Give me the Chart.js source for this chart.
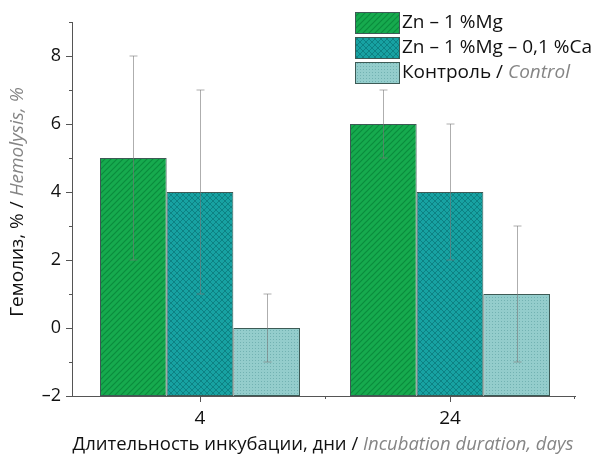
<!DOCTYPE html>
<html>
<head>
<meta charset="utf-8">
<script src="https://cdn.jsdelivr.net/npm/chart.js@4.4.1/dist/chart.umd.min.js"></script>
<style>
    html, body { margin: 0; padding: 0; background: #fff; }
    #wrap { width: 603px; height: 458px; }
</style>
</head>
<body>
<div id="wrap"><canvas id="hemoChart" width="603" height="458"></canvas></div>
<script>
// data
const days = ['4', '24'];
const seriesNames = ['Zn – 1 %Mg', 'Zn – 1 %Mg – 0,1 %Ca', 'Контроль'];
const znMg = [5, 6];
const znMgCa = [4, 4];
const control = [0, 1];
const znMgErr = [3, 1];
const znMgCaErr = [3, 2];
const controlErr = [1, 2];
const yTickValues = [-2, 0, 2, 4, 6, 8];

const FONT = '"Open Sans", "DejaVu Sans", sans-serif';

function makePattern(kind) {
    const c = document.createElement('canvas');
    const x = c.getContext('2d');
    if (kind === 'stripe') {
        c.width = 6; c.height = 6;
        x.fillStyle = '#16aa4e';
        x.fillRect(0, 0, 6, 6);
        x.strokeStyle = '#0b8c3d';
        x.lineWidth = 1.2;
        x.beginPath();
        x.moveTo(0, 6); x.lineTo(6, 0);
        x.moveTo(-3, 3); x.lineTo(3, -3);
        x.moveTo(3, 9); x.lineTo(9, 3);
        x.stroke();
    } else if (kind === 'cross') {
        c.width = 6; c.height = 6;
        x.fillStyle = '#17a2a2';
        x.fillRect(0, 0, 6, 6);
        x.strokeStyle = '#0d8283';
        x.lineWidth = 1;
        x.beginPath();
        x.moveTo(0, 6); x.lineTo(6, 0);
        x.moveTo(0, 0); x.lineTo(6, 6);
        x.stroke();
    } else {
        c.width = 3; c.height = 3;
        x.fillStyle = '#94cdcc';
        x.fillRect(0, 0, 3, 3);
        x.fillStyle = '#72b2b2';
        x.fillRect(0, 0, 1, 1);
    }
    return x.createPattern(c, 'repeat');
}

const fills = [makePattern('stripe'), makePattern('cross'), makePattern('dots')];
const errors = [znMgErr, znMgCaErr, controlErr];

// error bars drawn through the y scale
const errorBarPlugin = {
    id: 'errorBars',
    afterDatasetsDraw(chart) {
        const ctx = chart.ctx;
        const y = chart.scales.y;
        ctx.save();
        ctx.strokeStyle = 'rgba(120,120,120,0.6)';
        ctx.lineWidth = 1;
        chart.data.datasets.forEach((ds, i) => {
            const meta = chart.getDatasetMeta(i);
            meta.data.forEach((bar, j) => {
                const v = ds.data[j].y;
                const e = errors[i][j];
                const top = y.getPixelForValue(v + e);
                const bot = y.getPixelForValue(v - e);
                const px = Math.round(bar.x) + 0.5;
                ctx.beginPath();
                ctx.moveTo(px, top); ctx.lineTo(px, bot);
                ctx.moveTo(px - 4, top); ctx.lineTo(px + 4, top);
                ctx.moveTo(px - 4, bot); ctx.lineTo(px + 4, bot);
                ctx.stroke();
            });
        });
        ctx.restore();
    }
};

function mixedText(ctx, parts, size, cx, cy) {
    let total = 0;
    parts.forEach(p => {
        ctx.font = (p.italic ? 'italic ' : '') + size + 'px ' + FONT;
        p.w = ctx.measureText(p.t).width;
        total += p.w;
    });
    let sx = cx - total / 2;
    parts.forEach(p => {
        ctx.font = (p.italic ? 'italic ' : '') + size + 'px ' + FONT;
        ctx.fillStyle = p.italic ? '#858585' : '#111';
        ctx.fillText(p.t, sx, cy);
        sx += p.w;
    });
}

// axis tick marks, legend and mixed-style titles
const decorPlugin = {
    id: 'decor',
    afterDraw(chart) {
        const ctx = chart.ctx;
        const a = chart.chartArea;
        const y = chart.scales.y;
        const xs = chart.scales.x;
        ctx.save();
        ctx.strokeStyle = '#555';
        ctx.lineWidth = 1;
        ctx.beginPath();
        for (let v = y.min; v <= y.max; v++) {
            const py = Math.round(y.getPixelForValue(v)) + 0.5;
            const len = (v % 2 === 0) ? 6 : 3;
            ctx.moveTo(a.left - len, py); ctx.lineTo(a.left, py);
        }
        days.forEach((d, i) => {
            const px = Math.round(xs.getPixelForValue(i)) + 0.5;
            ctx.moveTo(px, a.bottom); ctx.lineTo(px, a.bottom + 6);
        });
        const mid = Math.round(xs.getPixelForValue(0.5)) + 0.5;
        ctx.moveTo(mid, a.bottom); ctx.lineTo(mid, a.bottom + 3);
        ctx.moveTo(a.right - 0.5, a.bottom); ctx.lineTo(a.right - 0.5, a.bottom + 3);
        ctx.stroke();

        // legend
        const lx = 355, bw = 45, bh = 22;
        const rows = [23, 48, 73];
        ctx.textBaseline = 'middle';
        ctx.textAlign = 'left';
        rows.forEach((cy, i) => {
            ctx.fillStyle = fills[i];
            ctx.fillRect(lx, cy - bh / 2, bw, bh);
            ctx.strokeStyle = '#3d5a55';
            ctx.strokeRect(lx + 0.5, cy - bh / 2 + 0.5, bw - 1, bh - 1);
            ctx.font = '19px ' + FONT;
            ctx.fillStyle = '#111';
            const tx = lx + bw + 2;
            if (i === 2) {
                const t = seriesNames[i] + ' / ';
                ctx.fillText(t, tx, cy);
                const w = ctx.measureText(t).width;
                ctx.font = 'italic 19px ' + FONT;
                ctx.fillStyle = '#858585';
                ctx.fillText('Control', tx + w, cy);
            } else {
                ctx.fillText(seriesNames[i], tx, cy);
            }
        });

        // x title
        ctx.textAlign = 'left';
        mixedText(ctx, [
            { t: 'Длительность инкубации, дни / ' },
            { t: 'Incubation duration, days', italic: true }
        ], 18.5, 323, 445);

        // y title
        ctx.save();
        ctx.translate(18, 202);
        ctx.rotate(-Math.PI / 2);
        mixedText(ctx, [
            { t: 'Гемолиз, % / ' },
            { t: 'Hemolysis, %', italic: true }
        ], 19, 0, 0);
        ctx.restore();
        ctx.restore();
    }
};

function makeDataset(label, data, i) {
    return {
        label: label,
        data: data.map((v, k) => ({ x: k, y: v })),
        base: -2,
        backgroundColor: fills[i],
        borderColor: '#3d5a55',
        borderWidth: 1,
        borderSkipped: false,
        barPercentage: 1,
        categoryPercentage: 0.8
    };
}

new Chart(document.getElementById('hemoChart'), {
    type: 'bar',
    data: {
        datasets: [
            makeDataset(seriesNames[0], znMg, 0),
            makeDataset(seriesNames[1], znMgCa, 1),
            makeDataset(seriesNames[2], control, 2)
        ]
    },
    options: {
        responsive: false,
        animation: false,
        layout: { padding: { top: 22, right: 28, left: 0, bottom: 0 } },
        plugins: {
            legend: { display: false },
            tooltip: { enabled: false }
        },
        scales: {
            x: {
                type: 'linear',
                offset: false,
                min: -0.512,
                max: 1.5,
                afterBuildTicks(scale) {
                    scale.ticks = days.map((d, i) => ({ value: i }));
                },
                grid: { display: false, drawTicks: false },
                border: { display: true, color: '#555', width: 1 },
                ticks: {
                    color: '#111',
                    font: { family: FONT, size: 19 },
                    padding: 11,
                    callback: v => days[v]
                },
                afterFit(scale) { scale.height = 62; }
            },
            y: {
                min: -2,
                max: 9,
                afterBuildTicks(scale) {
                    scale.ticks = yTickValues.map(v => ({ value: v }));
                },
                grid: { display: false, drawTicks: false },
                border: { display: true, color: '#555', width: 1 },
                ticks: {
                    color: '#111',
                    font: { family: FONT, size: 18 },
                    padding: 11,
                    callback: v => (v < 0 ? '–' + Math.abs(v) : String(v))
                },
                afterFit(scale) { scale.width = 72; }
            }
        }
    },
    plugins: [errorBarPlugin, decorPlugin]
});
</script>
</body>
</html>
